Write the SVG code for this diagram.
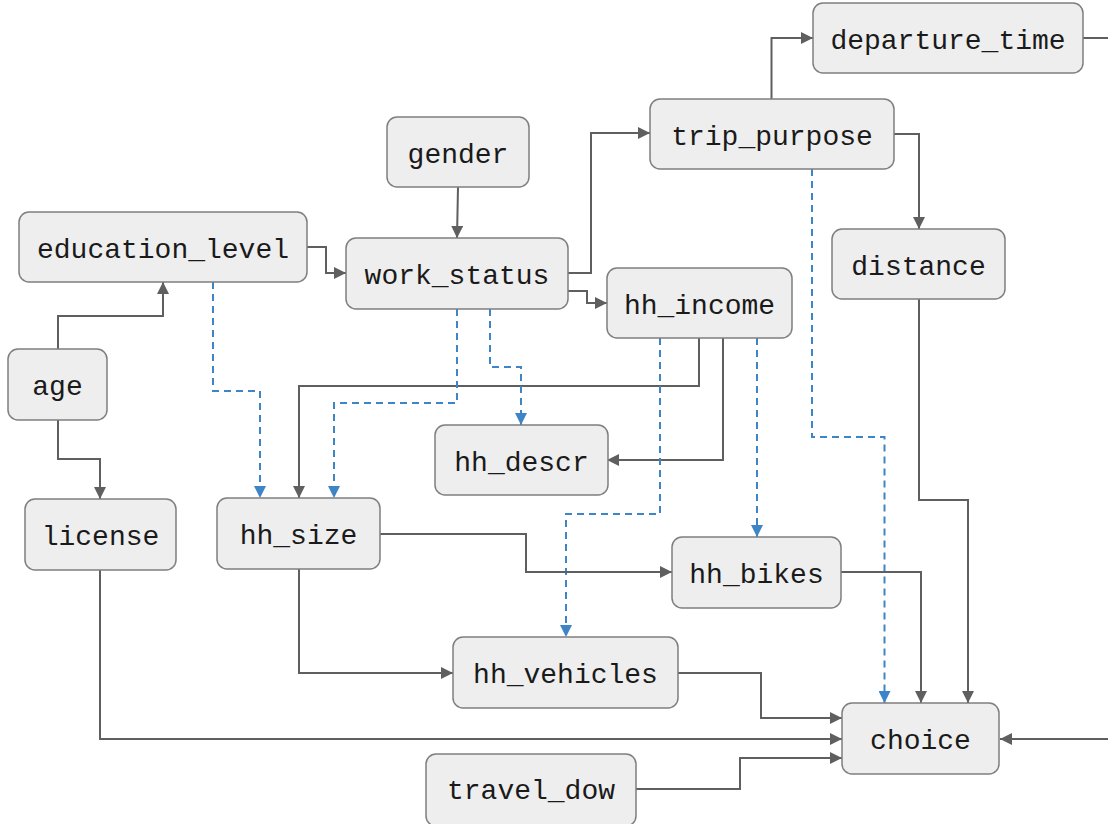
<svg xmlns="http://www.w3.org/2000/svg" width="1108" height="824" viewBox="0 0 1108 824">
<style>
.n rect{fill:#eeeeee;stroke:#7f7f7f;stroke-width:1.5}
.n text{font-family:"Liberation Mono","Courier New",monospace;font-size:28px;fill:#1a1a1a;text-anchor:middle;dominant-baseline:central}
.s{fill:none;stroke:#5f5f5f;stroke-width:2;marker-end:url(#ag)}
.p{fill:none;stroke:#5f5f5f;stroke-width:2}
.d{fill:none;stroke:#3d85c6;stroke-width:2;stroke-dasharray:7,5;marker-end:url(#ab)}
</style>
<defs>
<marker id="ag" viewBox="0 0 10 10" refX="10" refY="5" markerWidth="6" markerHeight="6" orient="auto" markerUnits="strokeWidth"><path d="M0,0 L10,5 L0,10 z" fill="#5f5f5f"/></marker>
<marker id="ab" viewBox="0 0 10 10" refX="10" refY="5" markerWidth="6" markerHeight="6" orient="auto" markerUnits="strokeWidth"><path d="M0,0 L10,5 L0,10 z" fill="#3d85c6"/></marker>
</defs>
<rect width="1108" height="824" fill="#ffffff"/>
<g id="connectors">
<path class="s" d="M771.5,99 V38 H813"/>
<path class="s" d="M894,134 H919 V229"/>
<path class="d" d="M812,169 V437 H884.5 V703"/>
<path class="s" d="M458,187 L457,238"/>
<path class="s" d="M307,247 H326 V273 H346"/>
<path class="s" d="M568,273 H591 V133 H650"/>
<path class="s" d="M568,291 H587 V303 H607"/>
<path class="s" d="M58,349 V316 H163 V282"/>
<path class="s" d="M58,420 V459 H100 V499"/>
<path class="d" d="M213,282 V391 H260 V498"/>
<path class="s" d="M699,338 V386 H299 V498"/>
<path class="s" d="M723,338 V460 H607"/>
<path class="d" d="M457,309 V403 H334 V498"/>
<path class="d" d="M490,309 V367 H521 V425"/>
<path class="d" d="M660,338 V514 H566 V637"/>
<path class="d" d="M757,338 V537"/>
<path class="s" d="M380,534 H526 V572 H672"/>
<path class="s" d="M299,569 V673 H453"/>
<path class="s" d="M841,572 H921 V703"/>
<path class="s" d="M919,299 V500 H968 V703"/>
<path class="s" d="M678,673 H761 V718 H842"/>
<path class="s" d="M100,570 V739 H842"/>
<path class="s" d="M636,789 H740 V758 H842"/>
<path class="p" d="M1083,38 H1110"/>
<path class="s" d="M1110,739 H1000"/>
</g>
<g id="departure_time" class="n"><rect x="813" y="3" width="270" height="70" rx="10"/><text x="948" y="41">departure_time</text></g>
<g id="trip_purpose" class="n"><rect x="650" y="99" width="244" height="70" rx="10"/><text x="772" y="137">trip_purpose</text></g>
<g id="gender" class="n"><rect x="387" y="117" width="142" height="70" rx="10"/><text x="458" y="155">gender</text></g>
<g id="education_level" class="n"><rect x="19" y="212" width="288" height="70" rx="10"/><text x="163" y="250">education_level</text></g>
<g id="work_status" class="n"><rect x="346" y="238" width="222" height="71" rx="10"/><text x="457" y="276">work_status</text></g>
<g id="distance" class="n"><rect x="832" y="229" width="173" height="70" rx="10"/><text x="918.5" y="267">distance</text></g>
<g id="hh_income" class="n"><rect x="607" y="268" width="185" height="70" rx="10"/><text x="699.5" y="306">hh_income</text></g>
<g id="age" class="n"><rect x="8" y="349" width="99" height="71" rx="10"/><text x="57.5" y="387">age</text></g>
<g id="hh_descr" class="n"><rect x="435" y="425" width="173" height="70" rx="10"/><text x="521.5" y="463">hh_descr</text></g>
<g id="license" class="n"><rect x="25" y="499" width="151" height="71" rx="10"/><text x="100.5" y="537">license</text></g>
<g id="hh_size" class="n"><rect x="217" y="498" width="163" height="71" rx="10"/><text x="298.5" y="536">hh_size</text></g>
<g id="hh_bikes" class="n"><rect x="672" y="537" width="169" height="71" rx="10"/><text x="756.5" y="575">hh_bikes</text></g>
<g id="hh_vehicles" class="n"><rect x="453" y="637" width="225" height="71" rx="10"/><text x="565.5" y="675">hh_vehicles</text></g>
<g id="choice" class="n"><rect x="842" y="703" width="157" height="71" rx="10"/><text x="920.5" y="741">choice</text></g>
<g id="travel_dow" class="n"><rect x="426" y="754" width="210" height="72" rx="10"/><text x="531" y="791">travel_dow</text></g>
</svg>
